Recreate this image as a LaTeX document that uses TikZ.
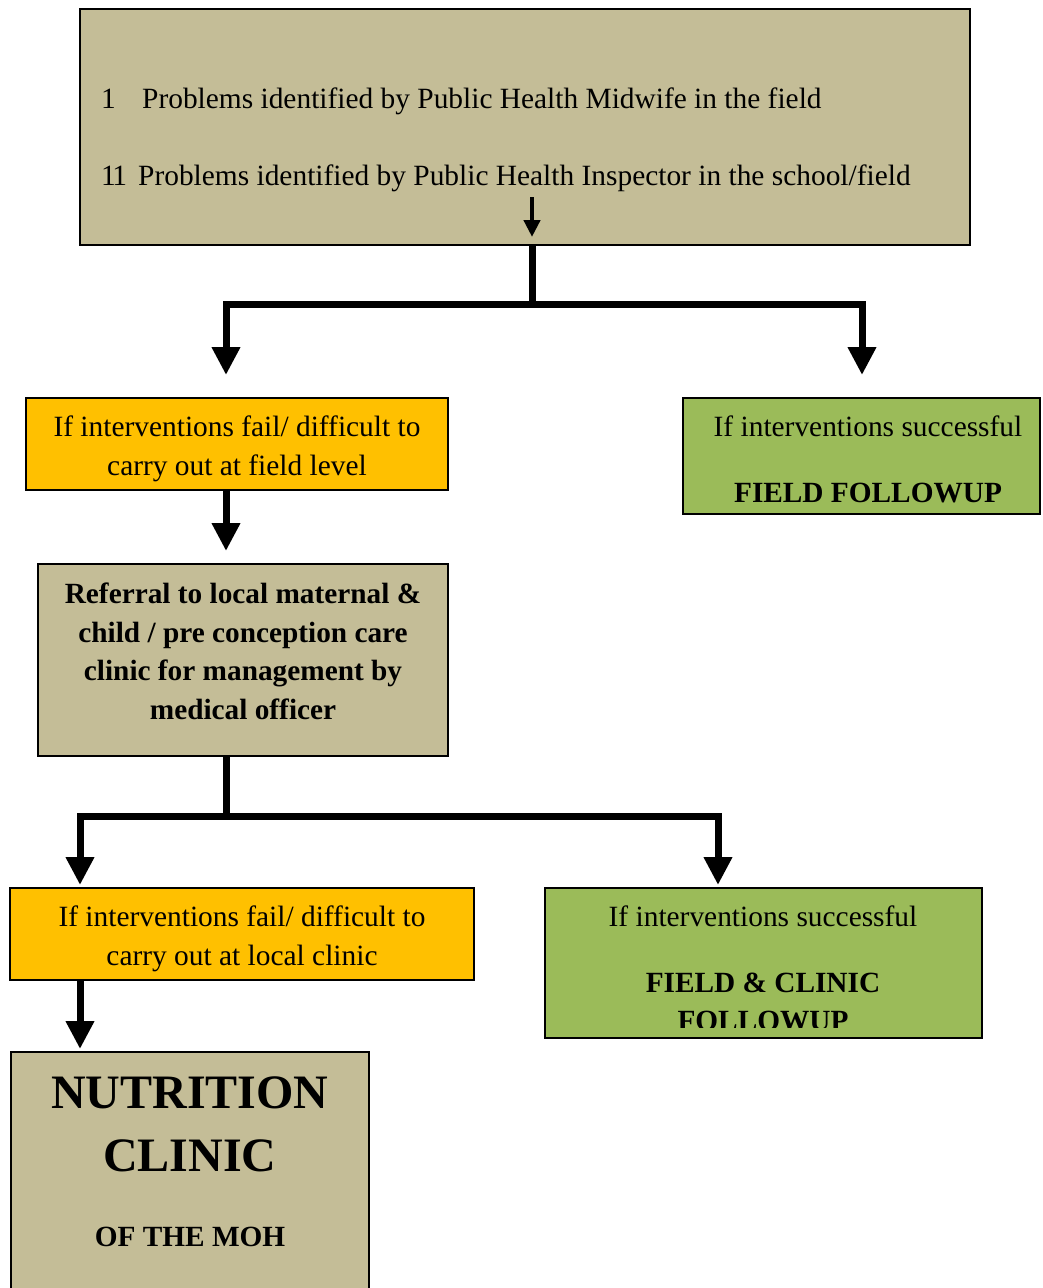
\documentclass[tikz,border=0pt]{standalone}
\usepackage{fontspec}
\setmainfont{Liberation Serif}
\usetikzlibrary{arrows.meta}
\definecolor{tan}{HTML}{C4BD97}
\definecolor{orng}{HTML}{FFC000}
\definecolor{grn}{HTML}{9BBB59}
\begin{document}
\begin{tikzpicture}[x=1pt,y=-1pt,
  box/.style={draw=black,line width=2pt,inner sep=0pt,rectangle},
  txt/.style={font=\fontsize{29.4}{35}\selectfont,inner sep=0pt,anchor=base},
  btxt/.style={font=\fontsize{29.3}{35}\selectfont\bfseries,inner sep=0pt,anchor=base},
  trunk/.style={line width=7pt,line join=miter},
  arr/.style={line width=7pt,line join=miter,-{Triangle[width=27pt,length=28pt]}},
  smallarr/.style={line width=4.5pt,-{Triangle[width=16pt,length=17pt]}}]
\useasboundingbox (0,0) rectangle (1042,1288);
\fill[white] (0,0) rectangle (1042,1288);
% boxes
\node[box,fill=tan,minimum width=890pt,minimum height=236pt] (top) at (525,127) {};
\node[box,fill=orng,minimum width=422pt,minimum height=92pt] (o1) at (237,444) {};
\node[box,fill=grn,minimum width=357pt,minimum height=116pt] (g1) at (861.5,456) {};
\node[box,fill=tan,minimum width=410pt,minimum height=192pt] (ref) at (243,660) {};
\node[box,fill=orng,minimum width=464pt,minimum height=92pt] (o2) at (242,934) {};
\node[box,fill=grn,minimum width=437pt,minimum height=150pt] (g2) at (763.5,963) {};
\node[box,fill=tan,minimum width=358pt,minimum height=258pt] (nut) at (190,1181) {};
% top texts
\node[txt,anchor=base west] (t1n) at (101,108) {1};
\node[txt,anchor=base west] (t1) at (142,108) {Problems identified by Public Health Midwife in the field};
\node[txt,anchor=base west] (t2n) at (101,185) {1\kern-3.5pt1};
\node[txt,anchor=base west] (t2) at (138,185) {Problems identified by Public Health Inspector in the school/field};
\coordinate (sa) at (532,197);
\coordinate (sb) at (532,237);
\draw[smallarr] (sa) -- (sb);
% orange 1
\node[txt] (o1a) at (237,436) {If interventions fail/ difficult to};
\node[txt] (o1b) at (237,475) {carry out at field level};
% green 1
\node[txt] (g1a) at (868,436) {If interventions successful};
\node[btxt] (g1b) at (868,502) {FIELD FOLLOWUP};
% referral
\node[btxt] (r1) at (243,603) {Referral to local maternal \&};
\node[btxt] (r2) at (243,642) {child / pre conception care};
\node[btxt] (r3) at (243,680) {clinic for management by};
\node[btxt] (r4) at (243,719) {medical officer};
% orange 2
\node[txt] (o2a) at (242,926) {If interventions fail/ difficult to};
\node[txt] (o2b) at (242,965) {carry out at local clinic};
% green 2
\begin{scope}
\clip (546,889) rectangle (981,1027);
\node[txt] (g2a) at (763,926) {If interventions successful};
\node[btxt] (g2b) at (763,992) {FIELD \& CLINIC};
\node[btxt] (g2c) at (763,1030) {FOLLOWUP};
\end{scope}
% nutrition
\node[font=\fontsize{48}{56}\selectfont\bfseries,inner sep=0pt,anchor=base] (n1) at (190,1108) {NUTRITION};
\node[font=\fontsize{48}{56}\selectfont\bfseries,inner sep=0pt,anchor=base] (n2) at (190,1171) {CLINIC};
\node[btxt] (n3) at (190,1246) {OF THE MOH};
% connectors
\coordinate (j1) at (532,304);
\draw[trunk] ([xshift=7pt]top.south) -- (j1);
\draw[arr] (j1) -| ([xshift=-11pt,yshift=22pt]o1.north);
\draw[arr] (j1) -| ([xshift=0.5pt,yshift=22pt]g1.north);
\draw[arr] ([xshift=-11pt]o1.south) -- ([xshift=-17pt,yshift=12pt]ref.north);
\coordinate (j2) at (226,816);
\draw[trunk] ([xshift=-17pt]ref.south) -- (j2);
\draw[arr] (j2) -| ([xshift=-162pt,yshift=2pt]o2.north);
\draw[arr] (j2) -| ([xshift=-45.5pt,yshift=2pt]g2.north);
\draw[arr] ([xshift=-162pt]o2.south) -- ([xshift=-110pt,yshift=2pt]nut.north);
\end{tikzpicture}
\end{document}
